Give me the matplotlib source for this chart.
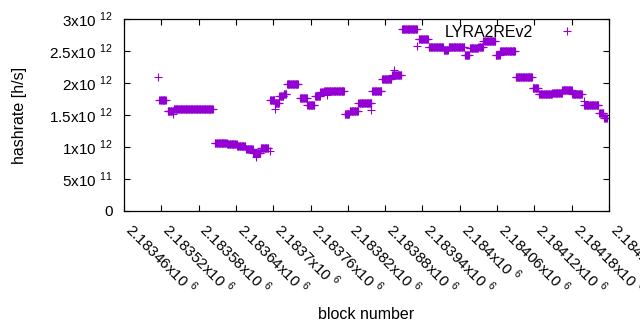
import numpy as np
import matplotlib
matplotlib.use("Agg")
import matplotlib.pyplot as plt

plt.rcParams["font.family"] = ["Liberation Sans", "DejaVu Sans"]
plt.rcParams["mathtext.fontset"] = "custom"
plt.rcParams["mathtext.rm"] = "Liberation Sans"
plt.rcParams["font.size"] = 11

# plateaus of constant hashrate: first block, last block, hashrate [1e12 h/s]
seg_start = [2183517, 2183530, 2183540, 2183606, 2183626, 2183642, 2183656, 2183668,
             2183680, 2183695, 2183703, 2183710, 2183717, 2183722, 2183743, 2183755,
             2183767, 2183776, 2183782, 2183815, 2183823, 2183837, 2183849, 2183859,
             2183875, 2183891, 2183907, 2183934, 2183950, 2183974, 2183982, 2184008,
             2184016, 2184030, 2184038, 2184058, 2184065, 2184090, 2184117, 2184127,
             2184149, 2184165, 2184181, 2184200, 2184224, 2184232]
seg_end = [2183527, 2183539, 2183603, 2183625, 2183641, 2183655, 2183667, 2183679,
           2183692, 2183702, 2183709, 2183716, 2183721, 2183740, 2183754, 2183766,
           2183775, 2183781, 2183814, 2183822, 2183836, 2183848, 2183858, 2183874,
           2183890, 2183906, 2183931, 2183949, 2183973, 2183981, 2184007, 2184015,
           2184029, 2184037, 2184057, 2184064, 2184089, 2184116, 2184126, 2184148,
           2184164, 2184180, 2184196, 2184223, 2184231, 2184236]
seg_rate = [1.727, 1.57, 1.60, 1.06, 1.05, 1.02, 0.97, 0.91,
            0.99, 1.73, 1.69, 1.80, 1.83, 1.98, 1.77, 1.66,
            1.80, 1.86, 1.87, 1.51, 1.555, 1.69, 1.68, 1.88,
            2.07, 2.125, 2.85, 2.68, 2.57, 2.51, 2.555, 2.43,
            2.55, 2.56, 2.65, 2.445, 2.50, 2.10, 1.92, 1.83,
            1.84, 1.89, 1.83, 1.655, 1.525, 1.45]

# isolated points
odd_block = [2183515, 2183538, 2183672, 2183695, 2183703, 2183786, 2183858,
             2183894, 2183932, 2184199]
odd_rate = [2.09, 1.51, 0.84, 0.94, 1.60, 1.81, 1.58, 2.20, 2.58, 1.72]

xtick_vals = [2183460, 2183520, 2183580, 2183640, 2183700, 2183760, 2183820,
              2183880, 2183940, 2184000, 2184060, 2184120, 2184180, 2184240]
xtick_labels = ["2.18346", "2.18352", "2.18358", "2.18364", "2.1837", "2.18376",
                "2.18382", "2.18388", "2.18394", "2.184", "2.18406", "2.18412",
                "2.18418", "2.18424"]
ytick_vals = [0, 0.5e12, 1e12, 1.5e12, 2e12, 2.5e12, 3e12]
ytick_labels = ["0", "5x10 $^{11}$", "1x10 $^{12}$", "1.5x10 $^{12}$",
                "2x10 $^{12}$", "2.5x10 $^{12}$", "3x10 $^{12}$"]

blocks = []
rates = []
for s, e, r in zip(seg_start, seg_end, seg_rate):
    b = np.arange(s, e + 1)
    blocks.append(b)
    rates.append(np.full(len(b), r))
blocks.append(np.array(odd_block))
rates.append(np.array(odd_rate))
blocks = np.concatenate(blocks)
rates = np.concatenate(rates) * 1e12

fig = plt.figure(figsize=(6.4, 3.3), dpi=100)
ax = fig.add_axes([124 / 640, 1 - 211 / 330, 485 / 640, 192 / 330])
ax.plot(blocks, rates, "+", color="#9400d3", ms=5.5, mew=0.8, ls="none",
        label="LYRA2REv2")

ax.set_xlim(2183460, 2184240)
ax.set_ylim(0, 3e12)
ax.set_xticks(xtick_vals)
ax.set_xticklabels([l + "x10 $^{6}$" for l in xtick_labels], rotation=-45,
                   ha="left", va="baseline", rotation_mode="anchor")
ax.set_yticks(ytick_vals)
ax.set_yticklabels(ytick_labels)
ax.tick_params(direction="in", length=4, width=0.8, top=True, right=True,
               labelsize=11, color="black")
ax.tick_params(axis="y", pad=8)
ax.tick_params(axis="x", pad=14)
for sp in ax.spines.values():
    sp.set_linewidth(0.9)

ax.set_xlabel("block number", fontsize=11.5)
ax.xaxis.set_label_coords(0.5, -0.5)
ax.set_ylabel("hashrate [h/s]", fontsize=11.5)
ax.yaxis.set_label_coords(-0.2, 0.5)

ax.legend(loc="upper right", bbox_to_anchor=(0.968, 1.046), frameon=False,
          markerfirst=False, handlelength=1.5, handletextpad=1.4, fontsize=11.5)

fig.savefig("out.png", dpi=100)
